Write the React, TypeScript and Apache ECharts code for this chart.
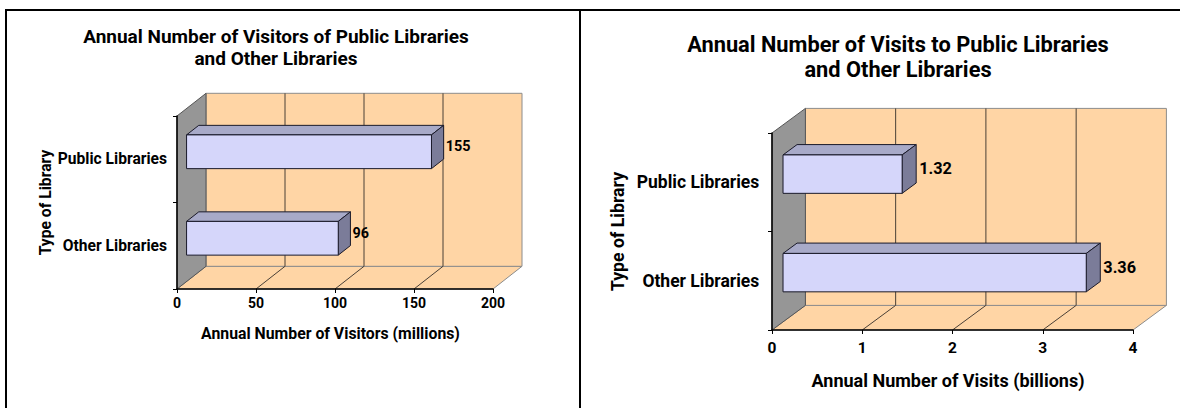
import React, { useEffect, useRef } from "react";
import * as echarts from "echarts";

// ---------- data ----------
const categories = ["Public Libraries", "Other Libraries"];
const visitorsMillions = [155, 96];
const visitsBillions = [1.32, 3.36];
const visitorTicks = [0, 50, 100, 150, 200];
const visitTicks = [0, 1, 2, 3, 4];

const leftTitle = "Annual Number of Visitors of Public Libraries\nand Other Libraries";
const rightTitle = "Annual Number of Visits to Public Libraries\nand Other Libraries";
const leftXName = "Annual Number of Visitors (millions)";
const rightXName = "Annual Number of Visits (billions)";
const yName = "Type of Library";

// ---------- style ----------
const FONT = "Roboto, 'Liberation Sans', Arial, sans-serif";
const PEACH = "#FFD5A5";
const SIDE_GRAY = "#969696";
const WALL_EDGE = "#8c8c8c";
const GRID_LINE = "#4a4036";
const BAR_FRONT = "#D5D6FA";
const BAR_TOP = "#A8AAC8";
const BAR_SIDE = "#7B7C99";
const BAR_EDGE = "#1a1a2a";
const F1 = 0.33;
const F2 = 0.75;

function wallRender(dx: number, dy: number, ticks: number[]) {
  return (params: any, api: any) => {
    const cs = params.coordSys;
    const x0 = cs.x, x1 = cs.x + cs.width, yT = cs.y, yB = cs.y + cs.height;
    const children: any[] = [];
    children.push({
      type: "polygon",
      shape: { points: [[x0, yB], [x1, yB], [x1 + dx, yB + dy], [x0 + dx, yB + dy]] },
      style: { fill: PEACH, stroke: WALL_EDGE, lineWidth: 1 },
    });
    children.push({
      type: "rect",
      shape: { x: x0 + dx, y: yT + dy, width: cs.width, height: cs.height },
      style: { fill: PEACH, stroke: WALL_EDGE, lineWidth: 1 },
    });
    children.push({
      type: "polygon",
      shape: { points: [[x0, yT], [x0 + dx, yT + dy], [x0 + dx, yB + dy], [x0, yB]] },
      style: { fill: SIDE_GRAY, stroke: "#555", lineWidth: 1 },
    });
    ticks.slice(1, -1).forEach((t) => {
      const x = api.coord([t, 0])[0];
      children.push({
        type: "line",
        shape: { x1: x + dx, y1: yT + dy, x2: x + dx, y2: yB + dy },
        style: { stroke: GRID_LINE, lineWidth: 1 },
      });
      children.push({
        type: "line",
        shape: { x1: x, y1: yB, x2: x + dx, y2: yB + dy },
        style: { stroke: GRID_LINE, lineWidth: 1 },
      });
    });
    return { type: "group", children };
  };
}

function barRender(dx: number, dy: number, fontSize: number, labelGap: number) {
  return (params: any, api: any) => {
    const v = api.value(0);
    const c = api.value(1);
    const p0 = api.coord([0, c]);
    const p1 = api.coord([v, c]);
    const band = api.size([0, 1])[1];
    const h = band * 0.39;
    const fx = F1 * dx, fy = F1 * dy;
    const ddx = (F2 - F1) * dx, ddy = (F2 - F1) * dy;
    const xl = p0[0] + fx, xr = p1[0] + fx;
    const yt = p0[1] - h / 2 + fy, yb = p0[1] + h / 2 + fy;
    return {
      type: "group",
      children: [
        {
          type: "polygon",
          shape: { points: [[xl, yt], [xr, yt], [xr + ddx, yt + ddy], [xl + ddx, yt + ddy]] },
          style: { fill: BAR_TOP, stroke: BAR_EDGE, lineWidth: 1 },
        },
        {
          type: "polygon",
          shape: { points: [[xr, yt], [xr + ddx, yt + ddy], [xr + ddx, yb + ddy], [xr, yb]] },
          style: { fill: BAR_SIDE, stroke: BAR_EDGE, lineWidth: 1 },
        },
        {
          type: "rect",
          shape: { x: xl, y: yt, width: xr - xl, height: yb - yt },
          style: { fill: BAR_FRONT, stroke: BAR_EDGE, lineWidth: 1 },
        },
        {
          type: "text",
          x: xr + ddx + labelGap,
          y: p0[1] + fy + ddy / 2,
          style: {
            text: String(v),
            fontFamily: FONT,
            fontWeight: "bold",
            fontSize,
            fill: "#000",
            textAlign: "left",
            textVerticalAlign: "middle",
          },
        },
      ],
    };
  };
}

function valueAxis(gridIndex: number, max: number, interval: number, fontSize: number, margin: number, name: string, nameSize: number, nameGap: number) {
  return {
    type: "value",
    gridIndex,
    min: 0,
    max,
    interval,
    z: 10,
    axisLine: { show: true, lineStyle: { color: "#000", width: 1.5 } },
    axisTick: { show: true, length: 4, lineStyle: { color: "#000", width: 1 } },
    splitLine: { show: false },
    axisLabel: { fontFamily: FONT, fontWeight: "bold", fontSize, color: "#000", margin },
    name,
    nameLocation: "middle",
    nameGap,
    nameTextStyle: {
      fontFamily: FONT,
      fontWeight: "bold",
      fontSize: nameSize,
      color: "#000",
      padding: [0, 9, 0, 0],
    },
  };
}

function catAxis(gridIndex: number, fontSize: number, margin: number, nameSize: number, nameGap: number) {
  return {
    type: "category",
    gridIndex,
    data: categories,
    inverse: true,
    z: 10,
    axisLine: { show: true, lineStyle: { color: "#000", width: 1.5 } },
    axisTick: { show: true, length: 4, lineStyle: { color: "#000", width: 1 } },
    splitLine: { show: false },
    axisLabel: { fontFamily: FONT, fontWeight: "bold", fontSize, color: "#000", margin },
    name: yName,
    nameLocation: "middle",
    nameGap,
    nameTextStyle: { fontFamily: FONT, fontWeight: "bold", fontSize: nameSize, color: "#000" },
  };
}

export default function App() {
  const ref = useRef<HTMLDivElement>(null);
  useEffect(() => {
    if (!ref.current) return;
    const chart = echarts.init(ref.current, undefined, { renderer: "svg" });
    const leftData = categories.map((c, i) => [visitorsMillions[i], i]);
    const rightData = categories.map((c, i) => [visitsBillions[i], i]);
    const option: any = {
      animation: false,
      backgroundColor: "#fff",
      title: [
        {
          text: leftTitle,
          left: 271,
          top: 20,
          textAlign: "center",
          textStyle: { fontFamily: FONT, fontWeight: "bold", fontSize: 19, lineHeight: 22, color: "#000" },
        },
        {
          text: rightTitle,
          left: 893,
          top: 27,
          textAlign: "center",
          textStyle: { fontFamily: FONT, fontWeight: "bold", fontSize: 21.8, lineHeight: 25, color: "#000" },
        },
      ],
      grid: [
        { left: 177, top: 116, width: 316, height: 173 },
        { left: 772, top: 133, width: 361, height: 197 },
      ],
      xAxis: [
        valueAxis(0, 200, 50, 14, 7, leftXName, 15.8, 36),
        valueAxis(1, 4, 1, 15.5, 10, rightXName, 18, 41),
      ],
      yAxis: [catAxis(0, 15.6, 10, 15.7, 123), catAxis(1, 17.5, 12.7, 17.7, 145)],
      series: [
        {
          type: "custom",
          xAxisIndex: 0,
          yAxisIndex: 0,
          z: 1,
          clip: false,
          silent: true,
          data: [[0, 0]],
          encode: { x: 0, y: 1 },
          renderItem: wallRender(29, -22.7, visitorTicks),
        },
        {
          type: "custom",
          xAxisIndex: 0,
          yAxisIndex: 0,
          z: 3,
          clip: false,
          data: leftData,
          encode: { x: 0, y: 1 },
          renderItem: barRender(29, -22.7, 14.4, 2),
        },
        {
          type: "custom",
          xAxisIndex: 1,
          yAxisIndex: 1,
          z: 1,
          clip: false,
          silent: true,
          data: [[0, 0]],
          encode: { x: 0, y: 1 },
          renderItem: wallRender(33.4, -24.6, visitTicks),
        },
        {
          type: "custom",
          xAxisIndex: 1,
          yAxisIndex: 1,
          z: 3,
          clip: false,
          data: rightData,
          encode: { x: 0, y: 1 },
          renderItem: barRender(33.4, -24.6, 16.3, 3),
        },
      ],
      graphic: [
        { type: "line", shape: { x1: 5, y1: 10, x2: 1180, y2: 10 }, style: { stroke: "#000", lineWidth: 2 } },
        { type: "line", shape: { x1: 6, y1: 9, x2: 6, y2: 408 }, style: { stroke: "#000", lineWidth: 2 } },
        { type: "line", shape: { x1: 580, y1: 9, x2: 580, y2: 408 }, style: { stroke: "#000", lineWidth: 2 } },
      ],
    };
    chart.setOption(option);
    return () => chart.dispose();
  }, []);
  return (
    <div
      ref={ref}
      style={{ position: "absolute", left: 0, top: 0, width: 1180, height: 408, background: "#fff" }}
    />
  );
}
